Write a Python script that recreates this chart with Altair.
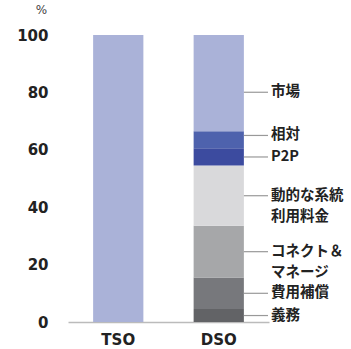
import altair as alt
import pandas as pd

# Stacked share (%) of each remuneration scheme, bottom to top
bars = ["TSO", "DSO"]
components = ["義務", "費用補償", "コネクト＆マネージ", "動的な系統利用料金", "P2P", "相対", "市場"]
label_lines = ["義務", "費用補償", "コネクト＆\nマネージ", "動的な系統\n利用料金", "P2P", "相対", "市場"]
tso_values = [0, 0, 0, 0, 0, 0, 100]
dso_values = [4.5, 11, 18, 21, 6, 6, 33.5]
colors = ["#626366", "#77787c", "#a6a7a9", "#d9d9db", "#3c4b9f", "#4e62ad", "#aab2d8"]
y_ticks = [0, 20, 40, 60, 80, 100]

rows = []
for bar, vals in (("TSO", tso_values), ("DSO", dso_values)):
    for i, (comp, v) in enumerate(zip(components, vals)):
        if v > 0:
            rows.append({"bar": bar, "comp": comp, "value": v, "order": i})
df = pd.DataFrame(rows)

# Label anchors for the DSO column: segment centres, with small nudges
nudge = {"市場": -3.2, "相対": 1.5}
labels = []
base = 0.0
for comp, text, v in zip(components, label_lines, dso_values):
    labels.append({"bar": "DSO", "comp": comp, "text": text,
                   "y": base + v / 2 + nudge.get(comp, 0)})
    base += v
lab_df = pd.DataFrame(labels)

FONT = "DejaVu Sans, Noto Sans CJK JP"
LABEL_FONT = "Noto Sans CJK JP"

x_enc = alt.X(
    "bar:N",
    sort=bars,
    scale=alt.Scale(paddingInner=0.5, paddingOuter=0.25),
    axis=alt.Axis(title=None, labelAngle=0, ticks=False, labelPadding=10,
                  labelFont=FONT, labelFontSize=15, labelFontWeight="bold",
                  labelColor="#222222", domainColor="#bbbbbb", domainWidth=1.5),
)

stack = alt.Chart(df).mark_bar().encode(
    x=x_enc,
    y=alt.Y(
        "value:Q",
        stack="zero",
        scale=alt.Scale(domain=[0, 100], nice=False),
        axis=alt.Axis(values=y_ticks, title="%", grid=False, domain=False, ticks=False,
                      labelPadding=20, labelFont=FONT, labelFontSize=15,
                      labelFontWeight="bold", labelColor="#222222",
                      titleAngle=0, titleX=-27, titleY=-26, titleAlign="center",
                      titleBaseline="middle", titleFont=FONT, titleFontSize=12,
                      titleFontWeight="normal", titleColor="#444444"),
    ),
    color=alt.Color("comp:N", scale=alt.Scale(domain=components, range=colors), legend=None),
    order=alt.Order("order:Q", sort="ascending"),
)

leaders = alt.Chart(lab_df).mark_rule(color="#999999", strokeWidth=1.2).encode(
    x=alt.X("bar:N", sort=bars, bandPosition=1),
    x2=alt.value(200),
    y=alt.Y("y:Q"),
)

texts = alt.Chart(lab_df).mark_text(
    align="left", baseline="middle", font=LABEL_FONT, fontSize=14.5, fontWeight="bold",
    color="#222222", lineBreak="\n", lineHeight=21,
).encode(
    x=alt.value(203),
    y=alt.Y("y:Q"),
    text="text:N",
)

chart = alt.layer(stack, leaders, texts).properties(
    width=201,
    height=287,
    autosize=alt.AutoSizeParams(type="none"),
    padding={"left": 68, "top": 35, "right": 82, "bottom": 27},
    background="white",
).configure_view(stroke=None, strokeWidth=0)

chart.save("out.html", embed_options={"renderer": "svg", "actions": False})
